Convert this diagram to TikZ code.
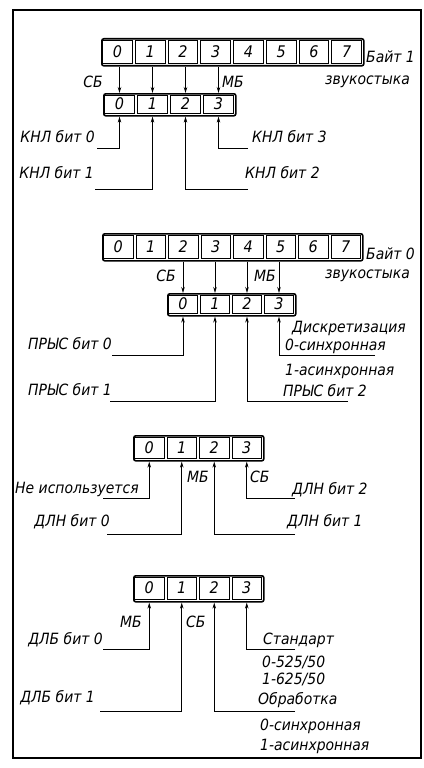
\documentclass[tikz,border=0pt]{standalone}
\usepackage{fontspec}
\setmainfont{DejaVu Sans}[FakeStretch=0.9]
\usetikzlibrary{arrows.meta}
\tikzset{
 lbl/.style={font=\fontsize{15.5}{17}\selectfont\itshape, inner sep=0pt},
 cellbox/.style={draw, line width=0.8pt, inner sep=0pt, font=\fontsize{16}{18}\selectfont\itshape},
 regbox/.style={draw, line width=1.6pt, rounded corners=2pt, inner sep=0pt},
 wire/.style={line width=0.8pt},
 arr/.style={wire, -{Stealth[length=6pt,width=3.5pt]}},
 frame/.style={line width=1.2pt},
}
\newcommand\drawreg[6]{%
 \node[regbox, minimum width={(#6+1)*#4*1pt}, minimum height=#5pt, anchor=north west] (#1) at (#2,#3) {};
 \foreach \i in {0,...,#6} {
   \node[cellbox, minimum width=#4pt-3pt, minimum height=#5pt-4pt] (#1-\i) at ({#2+(\i+0.5)*#4},{#3+#5/2}) {\i};
 }
}
\begin{document}
\begin{tikzpicture}[x=1pt,y=-1pt]
\useasboundingbox (0,0) rectangle (423,768);
\draw[frame] (13,10) rectangle (421,758);

% ---------- section 1
\drawreg{A}{101}{38}{32.75}{27}{7}
\drawreg{B}{103}{93}{33}{22}{3}
\foreach \i in {0,...,3} \draw[arr] (B-\i |- A.south) -- (B-\i |- B.north);
\node[lbl, anchor=west] (ab1) at (366,57) {Байт 1};
\node[lbl, anchor=west] (az1) at (325,82) {звукостыка};
\node[lbl, anchor=east] (asb) at (103,82) {СБ};
\node[lbl, anchor=west] (amb) at (222,82) {МБ};
\coordinate (k0) at (97,148);
\coordinate (k1) at (95,189);
\coordinate (k2) at (248,189);
\coordinate (k3) at (248,148);
\draw[arr] (k0) -| (B-0 |- B.south);
\draw[arr] (k1) -| (B-1 |- B.south);
\draw[arr] (k2) -| (B-2 |- B.south);
\draw[arr] (k3) -| (B-3 |- B.south);
\node[lbl, anchor=east] (kl0) at (95,137) {КНЛ бит 0};
\node[lbl, anchor=east] (kl1) at (94,173) {КНЛ бит 1};
\node[lbl, anchor=west] (kl2) at (245,173) {КНЛ бит 2};
\node[lbl, anchor=west] (kl3) at (252,137) {КНЛ бит 3};

% ---------- section 2
\drawreg{C}{102}{233}{32.5}{27}{7}
\drawreg{D}{167}{293}{32}{22}{3}
\draw[arr] (D-0 |- C.south) -- (D-0 |- D.north);
\draw[arr] (D-1 |- C.south) -- (D-1 |- D.north);
\draw[arr] (D-2 |- C.south) -- (D-2 |- D.north);
\draw[arr] (D-3 |- C.south) -- (D-3 |- D.north);
\node[lbl, anchor=west] (cb0) at (366,254) {Байт 0};
\node[lbl, anchor=west] (cz0) at (325,276) {звукостыка};
\node[lbl, anchor=east] (csb) at (176,276) {СБ};
\node[lbl, anchor=west] (cmb) at (254,276) {МБ};
\coordinate (p0) at (112,355);
\coordinate (p1) at (110,401);
\coordinate (p2) at (348,401);
\coordinate (p3) at (375,355);
\draw[arr] (p0) -| (D-0 |- D.south);
\draw[arr] (p1) -| (D-1 |- D.south);
\draw[arr] (p2) -| (D-2 |- D.south);
\draw[arr] (p3) -| (D-3 |- D.south);
\node[lbl, anchor=east] (pl0) at (112,344) {ПРЫС бит 0};
\node[lbl, anchor=east] (pl1) at (112,390) {ПРЫС бит 1};
\node[lbl, anchor=west] (pd) at (292,328) {Дискретизация};
\node[lbl, anchor=west] (ps0) at (285,346) {0-синхронная};
\node[lbl, anchor=west] (ps1) at (285,371) {1-асинхронная};
\node[lbl, anchor=west] (pl2) at (283,391) {ПРЫС бит 2};

% ---------- section 3
\drawreg{E}{133}{435}{32.5}{25}{3}
\coordinate (n0) at (103,498);
\coordinate (n1) at (107,534);
\coordinate (n2) at (295,534);
\coordinate (n3) at (295,498);
\draw[arr] (n0) -| (E-0 |- E.south);
\draw[arr] (n1) -| (E-1 |- E.south);
\draw[arr] (n2) -| (E-2 |- E.south);
\draw[arr] (n3) -| (E-3 |- E.south);
\node[lbl, anchor=west] (nu) at (15,489) {Не используется};
\node[lbl, anchor=west] (emb) at (187,477) {МБ};
\node[lbl, anchor=west] (esb) at (250,477) {СБ};
\node[lbl, anchor=west] (nl2) at (292,490) {ДЛН бит 2};
\node[lbl, anchor=east] (nl0) at (110,522) {ДЛН бит 0};
\node[lbl, anchor=west] (nl1) at (287,522) {ДЛН бит 1};

% ---------- section 4
\drawreg{F}{133}{575}{32.5}{26}{3}
\coordinate (b0) at (103,649);
\coordinate (b1) at (100,711);
\coordinate (b2) at (295,711);
\coordinate (b3) at (295,649);
\draw[arr] (b0) -| (F-0 |- F.south);
\draw[arr] (b1) -| (F-1 |- F.south);
\draw[arr] (b2) -| (F-2 |- F.south);
\draw[arr] (b3) -| (F-3 |- F.south);
\node[lbl, anchor=east] (fmb) at (142,622) {МБ};
\node[lbl, anchor=west] (fsb) at (186,622) {СБ};
\node[lbl, anchor=east] (bl0) at (103,640) {ДЛБ бит 0};
\node[lbl, anchor=east] (bl1) at (95,698) {ДЛБ бит 1};
\node[lbl, anchor=west] (fst) at (263,640) {Стандарт};
\node[lbl, anchor=west] (f525) at (262,662) {0-525/50};
\node[lbl, anchor=west] (f625) at (262,679) {1-625/50};
\node[lbl, anchor=west] (fob) at (258,700) {Обработка};
\node[lbl, anchor=west] (fs0) at (260,726) {0-синхронная};
\node[lbl, anchor=west] (fs1) at (260,746) {1-асинхронная};
\end{tikzpicture}
\end{document}
